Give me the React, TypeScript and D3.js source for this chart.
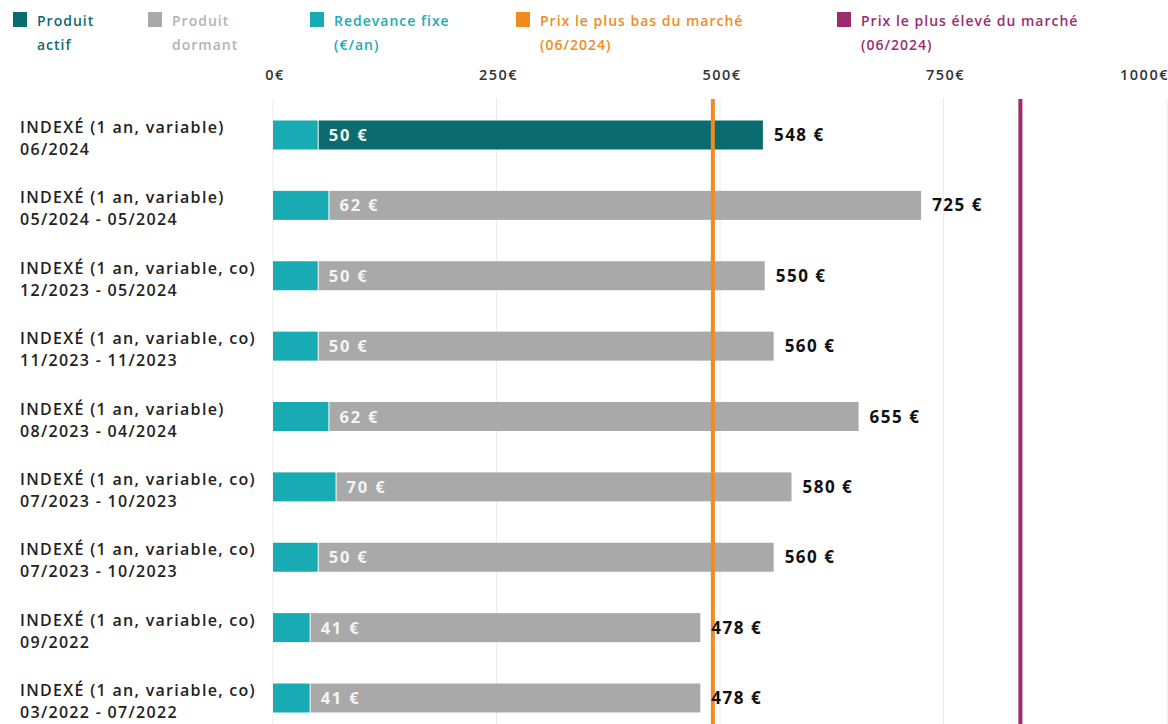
import React from "react";
import * as d3 from "d3";

const categoriesLine1 = [
  "INDEXÉ (1 an, variable)",
  "INDEXÉ (1 an, variable)",
  "INDEXÉ (1 an, variable, co)",
  "INDEXÉ (1 an, variable, co)",
  "INDEXÉ (1 an, variable)",
  "INDEXÉ (1 an, variable, co)",
  "INDEXÉ (1 an, variable, co)",
  "INDEXÉ (1 an, variable, co)",
  "INDEXÉ (1 an, variable, co)",
];
const categoriesLine2 = [
  "06/2024",
  "05/2024 - 05/2024",
  "12/2023 - 05/2024",
  "11/2023 - 11/2023",
  "08/2023 - 04/2024",
  "07/2023 - 10/2023",
  "07/2023 - 10/2023",
  "09/2022",
  "03/2022 - 07/2022",
];
const fixedFee = [50, 62, 50, 50, 62, 70, 50, 41, 41];
const totalPrice = [548, 725, 550, 560, 655, 580, 560, 478, 478];
const activeFlags = [true, false, false, false, false, false, false, false, false];
const tickValues = [0, 250, 500, 750, 1000];
const tickLabels = ["0€", "250€", "500€", "750€", "1000€"];
const lowestMarket = 492;
const highestMarket = 836;

const legendLabels1 = ["Produit", "Produit", "Redevance fixe", "Prix le plus bas du marché", "Prix le plus élevé du marché"];
const legendLabels2 = ["actif", "dormant", "(€/an)", "(06/2024)", "(06/2024)"];

const C_ACTIVE = "#0b6c6f";
const C_DORMANT = "#a9a9a9";
const C_FEE = "#19abb3";
const C_LOW = "#f28a1f";
const C_HIGH = "#9b2c6f";
const legendColors = [C_ACTIVE, C_DORMANT, C_FEE, C_LOW, C_HIGH];
const legendTextColors = [C_ACTIVE, "#b3b3b3", C_FEE, C_LOW, C_HIGH];
const legendX = [13, 148, 310, 516, 837];

const W = 1168;
const H = 724;
const FONT = "'Open Sans', 'DejaVu Sans', sans-serif";

export default function App() {
  const x = d3.scaleLinear().domain([0, 1000]).range([273, 1167]);
  const idx = d3.range(totalPrice.length);
  const y = d3.scalePoint<number>().domain(idx).range([135, 698]);
  const barH = 29;
  const gridTop = 98;

  return (
    <svg
      width={W}
      height={H}
      style={{ position: "absolute", left: 0, top: 0, background: "#fff" }}
      fontFamily={FONT}
    >
      {/* legend */}
      {legendLabels1.map((l, i) => (
        <g key={"lg" + i}>
          <rect x={legendX[i]} y={12} width={14} height={15} fill={legendColors[i]} />
          <text x={legendX[i] + 24} y={26} fontSize={14} fontWeight={600} letterSpacing={1} fill={legendTextColors[i]}>
            {l}
          </text>
          <text x={legendX[i] + 24} y={50} fontSize={14} fontWeight={600} letterSpacing={1} fill={legendTextColors[i]}>
            {legendLabels2[i]}
          </text>
        </g>
      ))}

      {/* ticks & grid */}
      {tickValues.map((v, i) => (
        <g key={"t" + i}>
          <line x1={x(v)} x2={x(v)} y1={gridTop} y2={H} stroke="#ebebeb" strokeWidth={1} />
          <text
            x={i === tickValues.length - 1 ? W + 1 : x(v) + 2}
            y={80}
            fontSize={14.5}
            fontWeight={600}
            letterSpacing={1.5}
            fill="#333"
            textAnchor={i === tickValues.length - 1 ? "end" : "middle"}
          >
            {tickLabels[i]}
          </text>
        </g>
      ))}

      {/* bars */}
      {idx.map((i) => {
        const cy = y(i) as number;
        return (
          <g key={"b" + i}>
            <text x={20} y={cy - 2} fontSize={16} fontWeight={600} letterSpacing={1.3} fill="#222">
              {categoriesLine1[i]}
            </text>
            <text x={20} y={cy + 20} fontSize={16} fontWeight={600} letterSpacing={1.3} fill="#222">
              {categoriesLine2[i]}
            </text>
            <rect x={x(0)} y={cy - barH / 2} width={x(fixedFee[i]) - x(0)} height={barH} fill={C_FEE} />
            <rect
              x={x(fixedFee[i]) + 1}
              y={cy - barH / 2}
              width={x(totalPrice[i]) - x(fixedFee[i]) - 1}
              height={barH}
              fill={activeFlags[i] ? C_ACTIVE : C_DORMANT}
            />
            <text x={x(fixedFee[i]) + 11} y={cy + 6} fontSize={16.5} fontWeight={700} letterSpacing={1.8} fill="#f4f4f4">
              {fixedFee[i]} €
            </text>
          </g>
        );
      })}

      {/* market lines */}
      <line x1={x(lowestMarket)} x2={x(lowestMarket)} y1={gridTop + 1} y2={H} stroke={C_LOW} strokeWidth={4} />
      <line x1={x(highestMarket)} x2={x(highestMarket)} y1={gridTop + 1} y2={H} stroke={C_HIGH} strokeWidth={4} />

      {/* total labels */}
      {idx.map((i) => {
        const cy = y(i) as number;
        return (
          <text key={"v" + i} x={x(totalPrice[i]) + 11} y={cy + 6} fontSize={17} fontWeight={700} letterSpacing={1.5} fill="#111">
            {totalPrice[i]} €
          </text>
        );
      })}
    </svg>
  );
}
